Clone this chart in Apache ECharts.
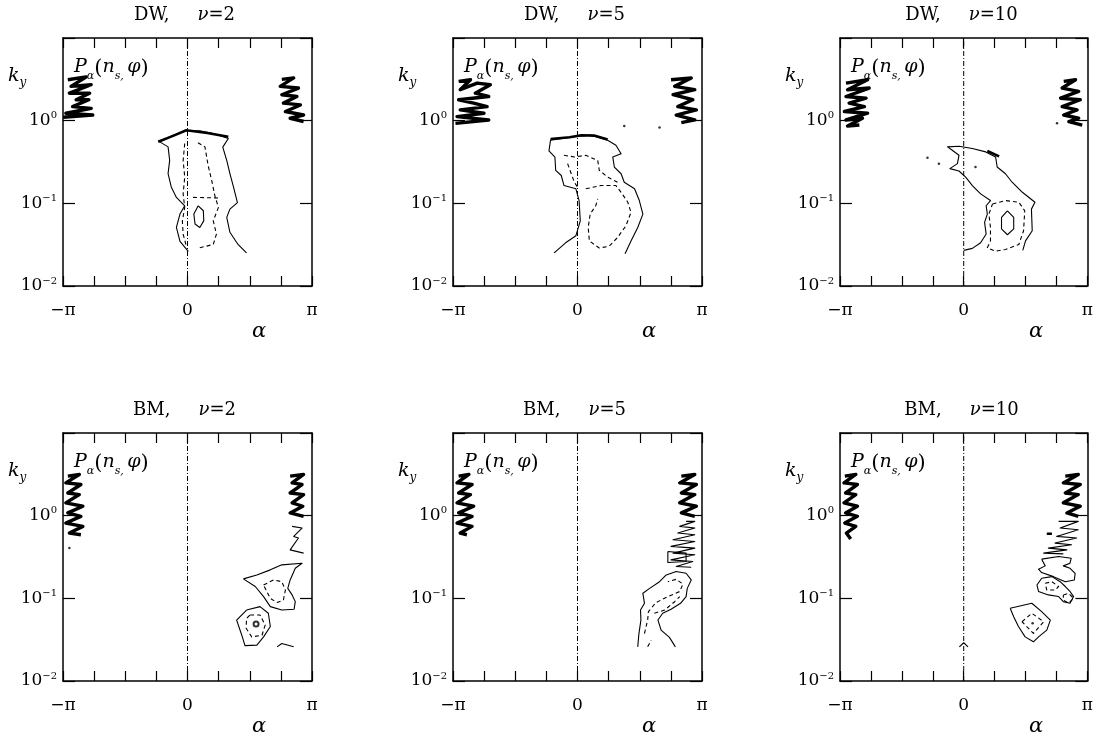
<!DOCTYPE html>
<html><head><meta charset="utf-8">
<script src="https://cdn.jsdelivr.net/npm/echarts@6/dist/echarts.min.js"></script>
<style>html,body{margin:0;padding:0;background:#fff}#c{width:1096px;height:742px}</style>
</head><body><div id="c"></div>
<script>
// ---------- tick labels ----------
const xTickLabels = ['−π', '0', 'π'];
const yTickExponents = ['−2', '−1', '0'];
const panelTitles = [['DW', '2'], ['DW', '5'], ['DW', '10'], ['BM', '2'], ['BM', '5'], ['BM', '10']];

// ---------- vertical reference line alpha = 0 ----------
const zeroLine = [[0, 0.01], [0, 10]];

// ---------- DW, nu=2 ----------
const dw2_outer = [[1.49,0.0251],[1.28,0.0316],[1.07,0.0447],[0.99,0.0676],[1.07,0.0851],[1.26,0.102],[1.16,0.158],[1.07,0.229],[0.99,0.331],[0.89,0.479],[1.03,0.609],[0.65,0.700],[0.31,0.755],[-0.03,0.755],[-0.36,0.668],[-0.70,0.554],[-0.49,0.482],[-0.45,0.331],[-0.49,0.229],[-0.41,0.158],[-0.28,0.118],[-0.07,0.0933],[-0.19,0.0741],[-0.28,0.0513],[-0.19,0.0347],[0.02,0.0263]];
const dw2_top = [[-0.74,0.555],[-0.35,0.66],[-0.03,0.765],[0.5,0.71],[1.03,0.638]];
const dw2_dashL = [[-0.07,0.529],[-0.11,0.331],[-0.07,0.208],[-0.11,0.130],[-0.07,0.0893],[-0.13,0.0614],[-0.11,0.0425],[-0.03,0.0303]];
const dw2_dashR = [[0.31,0.0290],[0.65,0.0318],[0.73,0.0425],[0.65,0.0614],[0.78,0.0893],[0.69,0.124],[0.61,0.190],[0.52,0.288],[0.44,0.482],[0.23,0.554]];
const dw2_dashH = [[0.14,0.118],[0.82,0.116]];
const dw2_core = [[0.27,0.0933],[0.40,0.0813],[0.41,0.0614],[0.31,0.0510],[0.19,0.0562],[0.16,0.0741],[0.27,0.0933]];
const dw2_blobL = [[-3.02,3.13],[-2.56,3.38],[-2.94,2.60],[-2.43,2.72],[-2.98,2.15],[-2.47,2.15],[-2.81,1.79],[-2.49,1.79],[-2.90,1.48],[-2.43,1.41],[-3.07,1.23],[-2.39,1.17],[-3.14,1.10]];
const dw2_blobR = [[2.38,3.16],[2.68,3.29],[2.34,2.60],[2.80,2.48],[2.38,2.06],[2.76,1.96],[2.42,1.63],[2.85,1.55],[2.47,1.29],[2.93,1.17],[2.59,1.07],[2.93,0.977]];

// ---------- DW, nu=5 ----------
const dw5_outer = [[-0.59,0.0251],[-0.30,0.0333],[-0.04,0.0406],[0.07,0.0614],[0.04,0.108],[-0.04,0.150],[-0.34,0.164],[-0.41,0.217],[-0.55,0.251],[-0.57,0.363],[-0.72,0.431],[-0.68,0.581],[-0.08,0.638],[0.34,0.668],[0.76,0.581],[0.97,0.505],[1.10,0.398],[0.89,0.363],[0.93,0.275],[1.10,0.228],[1.18,0.180],[1.44,0.150],[1.56,0.108],[1.65,0.0741],[1.52,0.0510],[1.35,0.0350],[1.20,0.0245]];
const dw5_top = [[-0.68,0.60],[-0.2,0.63],[0.1,0.665],[0.42,0.66],[0.76,0.59]];
const dw5_dash = [[0.21,0.150],[0.59,0.164],[0.97,0.164],[1.10,0.136],[1.27,0.103],[1.35,0.0776],[1.22,0.0533],[1.01,0.0386],[0.80,0.0303],[0.55,0.0288],[0.30,0.0350],[0.27,0.0510],[0.32,0.0741],[0.46,0.0935],[0.51,0.113]];
const dw5_mid = [[-0.34,0.381],[-0.08,0.364],[0.21,0.381],[0.51,0.331],[0.55,0.251],[0.76,0.208],[1.01,0.180]];
const dw5_axisDash = [[-0.25,0.302],[-0.08,0.180],[0,0.157]];
const dw5_blobL = [[-3.00,2.99],[-2.70,3.13],[-2.96,2.37],[-2.53,2.85],[-2.20,2.72],[-2.58,2.15],[-2.24,1.96],[-3.00,1.79],[-2.62,1.63],[-2.28,1.48],[-2.96,1.35],[-2.36,1.23],[-3.04,1.12],[-2.24,1.02],[-3.08,0.927]];
const dw5_blobR = [[2.36,3.13],[2.87,3.28],[2.45,2.60],[2.96,2.37],[2.41,2.06],[2.91,1.79],[2.53,1.48],[3.00,1.35],[2.49,1.17],[2.96,1.02],[2.62,0.946]];
const dw5_dots = [[1.18,0.861],[2.07,0.829]];

// ---------- DW, nu=10 ----------
const dw10_outer = [[0,0.0270],[0.22,0.0285],[0.43,0.0334],[0.57,0.0425],[0.53,0.0588],[0.60,0.0741],[0.57,0.0935],[0.68,0.108],[0.43,0.130],[0.22,0.164],[0.05,0.208],[-0.12,0.246],[-0.35,0.263],[-0.16,0.302],[-0.12,0.381],[-0.29,0.439],[-0.41,0.482],[-0.12,0.491],[0.22,0.460],[0.56,0.419],[0.81,0.364],[0.85,0.275],[1.06,0.228],[1.23,0.180],[1.49,0.136],[1.81,0.103],[1.72,0.0851],[1.74,0.0466],[1.57,0.0351],[1.50,0.0270]];
const dw10_dash = [[0.73,0.0980],[1.06,0.108],[1.40,0.103],[1.55,0.0813],[1.52,0.0466],[1.40,0.0318],[1.06,0.0277],[0.81,0.0264],[0.60,0.0290],[0.68,0.0351],[0.68,0.0510],[0.64,0.0741],[0.73,0.0980]];
const dw10_core = [[1.11,0.0813],[1.27,0.0676],[1.27,0.0490],[1.11,0.0417],[0.96,0.0490],[0.96,0.0676],[1.11,0.0813]];
const dw10_mark = [[0.60,0.43],[0.90,0.37]];
const dw10_dots = [[-0.92,0.357],[-0.63,0.302],[0.30,0.275],[2.37,0.93]];
const dw10_blobL = [[-2.99,2.85],[-2.44,3.13],[-2.95,2.37],[-2.40,2.48],[-2.99,1.96],[-2.48,1.87],[-2.91,1.63],[-2.52,1.48],[-3.03,1.29],[-2.44,1.23],[-2.99,1.02],[-2.57,1.07],[-2.95,0.861],[-2.65,0.885]];
const dw10_blobR = [[2.54,2.99],[2.84,3.13],[2.50,2.48],[2.92,2.26],[2.46,1.87],[2.96,1.79],[2.50,1.48],[2.88,1.35],[2.54,1.17],[2.92,1.07],[2.67,0.973],[3.01,0.885]];

// ---------- BM, nu=2 ----------
const bm2_blobL = [[-3.02,3.01],[-2.73,3.15],[-3.07,2.49],[-2.69,2.38],[-3.02,1.88],[-2.73,1.80],[-3.07,1.43],[-2.64,1.30],[-3.02,1.08],[-2.69,0.981],[-3.07,0.814],[-2.64,0.742],[-2.98,0.616],[-2.69,0.588]];
const bm2_blobR = [[2.59,3.01],[2.93,3.15],[2.64,2.49],[2.89,2.38],[2.59,1.88],[2.93,1.80],[2.64,1.43],[2.91,1.30],[2.59,1.08],[2.93,0.981]];
const bm2_hatchR = [[2.64,0.742],[2.89,0.708],[2.68,0.561],[2.80,0.536],[2.59,0.386],[2.93,0.352]];
const bm2_dots = [[-2.98,0.405]];
const bm2_upper = [[1.41,0.172],[1.75,0.192],[2.09,0.221],[2.38,0.254],[2.89,0.266],[2.72,0.231],[2.59,0.167],[2.53,0.132],[2.64,0.110],[2.72,0.0912],[2.69,0.0739],[2.38,0.0722],[2.09,0.0794],[1.92,0.105],[1.71,0.139],[1.41,0.172]];
const bm2_upperDash = [[1.92,0.145],[2.17,0.167],[2.38,0.159],[2.47,0.126],[2.42,0.0955],[2.26,0.0888],[2.09,0.100],[2.00,0.121],[1.92,0.145]];
const bm2_lower = [[1.49,0.0722],[1.83,0.0794],[2.04,0.0660],[2.09,0.0456],[1.92,0.0342],[1.75,0.0272],[1.45,0.0268],[1.37,0.0358],[1.24,0.0546],[1.49,0.0722]];
const bm2_lowerDash = [[1.58,0.0629],[1.83,0.0629],[1.96,0.0475],[1.88,0.0358],[1.62,0.0342],[1.48,0.0434],[1.49,0.0572],[1.58,0.0629]];
const bm2_ring = [[1.73,0.0489]];
const bm2_tail = [[2.26,0.0259],[2.38,0.0284],[2.68,0.0259]];

// ---------- BM, nu=5 ----------
const bm5_blobL = [[-3.00,3.01],[-2.74,3.15],[-3.04,2.49],[-2.66,2.38],[-3.00,1.88],[-2.70,1.80],[-3.04,1.43],[-2.62,1.30],[-3.00,1.08],[-2.66,0.981],[-3.04,0.814],[-2.66,0.742],[-2.96,0.616],[-2.79,0.588]];
const bm5_blobR = [[2.62,3.01],[2.96,3.15],[2.58,2.49],[3.00,2.38],[2.62,1.88],[2.96,1.80],[2.58,1.43],[3.00,1.30],[2.62,1.08],[2.96,0.981]];
const bm5_hatch = [[2.74,0.853],[2.96,0.853],[2.58,0.742],[2.96,0.708],[2.53,0.616],[2.96,0.588],[2.41,0.511],[2.96,0.488],[2.36,0.425],[2.96,0.405],[2.41,0.352],[2.96,0.336],[2.36,0.292],[2.91,0.279],[2.49,0.243],[2.87,0.238]];
const bm5_loop = [[2.28,0.369],[2.74,0.352],[2.74,0.279],[2.28,0.271],[2.28,0.369]];
const bm5_outer = [[1.52,0.0259],[1.55,0.0375],[1.60,0.0546],[1.59,0.0722],[1.69,0.0871],[1.65,0.115],[1.82,0.132],[2.07,0.159],[2.24,0.192],[2.49,0.211],[2.74,0.201],[2.87,0.167],[2.77,0.132],[2.74,0.105],[2.60,0.0871],[2.36,0.0739],[2.15,0.0660],[2.03,0.0546],[2.11,0.0412],[2.32,0.0337],[2.47,0.0259]];
const bm5_dash1 = [[1.69,0.0375],[1.77,0.0546],[1.79,0.0691],[1.98,0.0888],[2.28,0.105],[2.58,0.121],[2.66,0.149],[2.49,0.170],[2.28,0.159]];
const bm5_dash2 = [[1.94,0.0660],[2.20,0.0722],[2.45,0.0910],[2.58,0.105]];
const bm5_dash3 = [[1.77,0.0259],[1.86,0.031]];

// ---------- BM, nu=10 ----------
const bm10_blobL = [[-3.02,3.01],[-2.74,3.15],[-3.04,2.49],[-2.70,2.38],[-3.00,1.88],[-2.74,1.80],[-3.04,1.43],[-2.70,1.30],[-3.00,1.08],[-2.70,0.981],[-3.02,0.814],[-2.74,0.742],[-2.98,0.616],[-2.87,0.521]];
const bm10_blobR = [[2.58,3.01],[2.91,3.15],[2.53,2.49],[2.96,2.38],[2.58,1.88],[2.91,1.80],[2.53,1.43],[2.96,1.30],[2.62,1.08],[2.91,0.981]];
const bm10_hatch = [[2.41,0.853],[2.91,0.853],[2.45,0.708],[2.91,0.676],[2.36,0.561],[2.87,0.536],[2.32,0.466],[2.74,0.445],[2.15,0.405],[2.62,0.386],[2.03,0.352],[2.53,0.345]];
const bm10_mark = [[2.11,0.604],[2.24,0.604]];
const bm10_loopA = [[1.98,0.298],[2.41,0.321],[2.73,0.306],[2.70,0.266],[2.53,0.247],[2.70,0.231],[2.83,0.201],[2.81,0.167],[2.58,0.159],[2.28,0.183],[1.98,0.205],[1.90,0.225],[2.07,0.247],[1.98,0.298]];
const bm10_loopB = [[1.98,0.175],[2.24,0.183],[2.45,0.159],[2.58,0.139],[2.70,0.121],[2.79,0.105],[2.70,0.0871],[2.53,0.0912],[2.41,0.105],[2.15,0.110],[1.90,0.121],[1.86,0.145],[1.98,0.175]];
const bm10_loopBdash = [[2.07,0.152],[2.24,0.159],[2.41,0.139],[2.32,0.126],[2.11,0.126],[2.07,0.152]];
const bm10_diamond = [[2.53,0.110],[2.66,0.115],[2.79,0.100],[2.66,0.0871],[2.53,0.0955],[2.53,0.110]];
const bm10_low = [[1.18,0.0757],[1.73,0.0871],[1.98,0.0691],[2.20,0.0546],[2.11,0.0412],[1.90,0.0342],[1.77,0.0298],[1.56,0.0342],[1.39,0.0456],[1.27,0.0600],[1.18,0.0757]];
const bm10_lowDash = [[1.48,0.0521],[1.73,0.0660],[2.03,0.0521],[1.77,0.0376],[1.48,0.0521]];
const bm10_dots = [[1.75,0.0500]];
const bm10_caret = [[-0.11,0.0259],[0,0.0290],[0.11,0.0259]];

// ---------- assemble ----------
const panels = [
  {left:63, top:38, lines:[[dw2_outer,'solid'],[dw2_top,'thick'],[dw2_dashL,'dash'],[dw2_dashR,'dash'],[dw2_dashH,'dash'],[dw2_core,'solid'],[dw2_blobL,'blob'],[dw2_blobR,'blob']], dots:[]},
  {left:453, top:38, lines:[[dw5_outer,'solid'],[dw5_top,'thick'],[dw5_dash,'dash'],[dw5_mid,'dash'],[dw5_axisDash,'dash'],[dw5_blobL,'blob'],[dw5_blobR,'blob']], dots:dw5_dots},
  {left:840, top:38, lines:[[dw10_outer,'solid'],[dw10_dash,'dash'],[dw10_core,'solid'],[dw10_mark,'thick'],[dw10_blobL,'blob'],[dw10_blobR,'blob']], dots:dw10_dots},
  {left:63, top:433, lines:[[bm2_blobL,'blob'],[bm2_blobR,'blob'],[bm2_hatchR,'solid'],[bm2_upper,'solid'],[bm2_upperDash,'dash'],[bm2_lower,'solid'],[bm2_lowerDash,'dash'],[bm2_tail,'solid']], dots:bm2_dots, rings:bm2_ring},
  {left:453, top:433, lines:[[bm5_blobL,'blob'],[bm5_blobR,'blob'],[bm5_hatch,'solid'],[bm5_loop,'solid'],[bm5_outer,'solid'],[bm5_dash1,'dash'],[bm5_dash2,'dash'],[bm5_dash3,'dash']], dots:[]},
  {left:840, top:433, lines:[[bm10_blobL,'blob'],[bm10_blobR,'blob'],[bm10_hatch,'solid'],[bm10_mark,'thick'],[bm10_loopA,'solid'],[bm10_loopB,'solid'],[bm10_loopBdash,'dash'],[bm10_diamond,'dash'],[bm10_low,'solid'],[bm10_lowDash,'dash'],[bm10_caret,'solid']], dots:bm10_dots}
];

const W = 249, H = 248;
const FONT = 'DejaVu Serif';
const PI = Math.PI;
const styleMap = {
  solid: {width:1.1, type:'solid'},
  dash: {width:1.1, type:[4,3]},
  blob: {width:3.4, type:'solid'},
  thick: {width:2.6, type:'solid'}
};

const grids = [], xAxes = [], yAxes = [], series = [], graphics = [];

function xLabel(v){
  if (Math.abs(v + PI) < 1e-6) return xTickLabels[0];
  if (Math.abs(v) < 1e-6) return xTickLabels[1];
  if (Math.abs(v - PI) < 1e-6) return xTickLabels[2];
  return '';
}
function yLabel(v){
  const e = Math.round(Math.log10(v));
  if (e >= 1) return '';
  return '{b|10}{s|' + yTickExponents[e + 2] + '}';
}

panels.forEach((p, i) => {
  grids.push({left:p.left, top:p.top, width:W, height:H, show:false});
  const axLine = {show:true, onZero:false, lineStyle:{color:'#000', width:1.5}};
  const xBase = {type:'value', gridIndex:i, min:-PI, max:PI, interval:PI/4, splitLine:{show:false},
    axisLine:axLine, axisTick:{show:true, inside:true, length:10, lineStyle:{color:'#000', width:1.2}}};
  xAxes.push(Object.assign({}, xBase, {position:'bottom',
    axisLabel:{show:true, formatter:xLabel, margin:16, color:'#000', fontFamily:FONT, fontSize:17, showMinLabel:true, showMaxLabel:true}}));
  xAxes.push(Object.assign({}, xBase, {position:'top', axisLabel:{show:false}}));
  const yBase = {type:'log', logBase:10, gridIndex:i, min:0.01, max:10, splitLine:{show:false}, minorTick:{show:false},
    axisLine:axLine, axisTick:{show:true, inside:true, length:12, lineStyle:{color:'#000', width:1.2}}};
  yAxes.push(Object.assign({}, yBase, {position:'left',
    axisLabel:{show:true, formatter:yLabel, margin:6, color:'#000', showMinLabel:true, showMaxLabel:true,
      rich:{b:{fontFamily:FONT, fontSize:17, lineHeight:20, color:'#000'}, s:{fontFamily:FONT, fontSize:10, lineHeight:10, verticalAlign:'top', color:'#000'}}}}));
  yAxes.push(Object.assign({}, yBase, {position:'right', axisLabel:{show:false}}));

  const xi = 2*i, yi = 2*i;
  series.push({type:'line', xAxisIndex:xi, yAxisIndex:yi, data:zeroLine, symbol:'none', silent:true,
    lineStyle:{color:'#000', width:1, type:[5,2,1,2]}});
  p.lines.forEach(([d, s]) => {
    series.push({type:'line', xAxisIndex:xi, yAxisIndex:yi, data:d, symbol:'none', silent:true,
      lineStyle:Object.assign({color:'#000', join:'round'}, styleMap[s])});
  });
  if (p.dots && p.dots.length) series.push({type:'scatter', xAxisIndex:xi, yAxisIndex:yi, data:p.dots, symbolSize:2.5, itemStyle:{color:'#000'}, silent:true});
  if (p.rings) series.push({type:'scatter', xAxisIndex:xi, yAxisIndex:yi, data:p.rings, symbol:'emptyCircle', symbolSize:5, itemStyle:{color:'#000', borderColor:'#000', borderWidth:1}, silent:true});

  // texts
  const t = panelTitles[i];
  graphics.push({type:'text', x:p.left + W/2 - 3, y:p.top - 23, style:{
    text:'{a|' + t[0] + ',}{g|}{i|ν}{a|=' + t[1] + '}', textAlign:'center', textVerticalAlign:'middle', verticalAlign:'middle',
    rich:{a:{fontFamily:FONT, fontSize:18, fill:'#000'}, g:{width:28, fontSize:18}, i:{fontFamily:FONT, fontStyle:'italic', fontSize:18, fill:'#000'}}}});
  graphics.push({type:'text', x:p.left - 55, y:p.top + 40, style:{
    text:'{k|k}{y|y}', textAlign:'left', textVerticalAlign:'middle', verticalAlign:'middle',
    rich:{k:{fontFamily:FONT, fontStyle:'italic', fontSize:19, lineHeight:22, verticalAlign:'top', fill:'#000'}, y:{fontFamily:FONT, fontStyle:'italic', fontSize:12, lineHeight:12, verticalAlign:'bottom', fill:'#000'}}}});
  graphics.push({type:'text', x:p.left + 11, y:p.top + 32, style:{
    text:'{P|P}{s|α}{p|(}{P|n}{s|s, }{P|φ}{p|)}', textAlign:'left', textVerticalAlign:'middle', verticalAlign:'middle',
    rich:{P:{fontFamily:FONT, fontStyle:'italic', fontSize:19, lineHeight:24, verticalAlign:'top', fill:'#000'},
          s:{fontFamily:FONT, fontStyle:'italic', fontSize:11, lineHeight:11, verticalAlign:'bottom', fill:'#000'},
          p:{fontFamily:FONT, fontSize:21, lineHeight:24, verticalAlign:'top', fill:'#000'}}}});
  graphics.push({type:'text', x:p.left + 196, y:p.top + H + 46, style:{
    text:'α', textAlign:'center', textVerticalAlign:'middle', verticalAlign:'middle', fill:'#000',
    font:'italic 21px "DejaVu Serif"'}});
});

const chart = echarts.init(document.getElementById('c'), null, {renderer:'canvas'});
chart.setOption({
  animation:false, backgroundColor:'#fff',
  grid:grids, xAxis:xAxes, yAxis:yAxes, series:series, graphic:graphics
});
</script></body></html>
